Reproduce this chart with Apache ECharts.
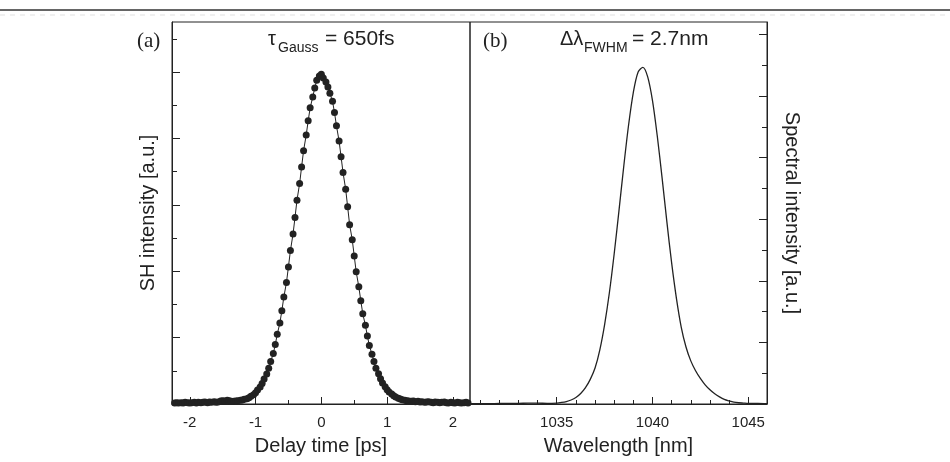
<!DOCTYPE html>
<html>
<head>
<meta charset="utf-8">
<script src="https://cdn.jsdelivr.net/npm/echarts@6/dist/echarts.min.js"></script>
<style>
  html, body { margin: 0; padding: 0; background: #fff; }
  #chart { width: 950px; height: 462px; }
</style>
</head>
<body>
<div id="chart"></div>
<script>
// (a) autocorrelation: delay [ps] and SH signal (normalised)
var delay = [-2.23,-2.20,-2.17,-2.13,-2.10,-2.07,-2.03,-2.00,-1.97,-1.93,-1.90,-1.87,-1.83,-1.80,-1.77,-1.73,-1.70,-1.67,-1.63,-1.60,-1.57,-1.53,-1.50,-1.47,-1.43,-1.40,-1.37,-1.33,-1.30,-1.27,-1.23,-1.20,-1.17,-1.13,-1.10,-1.07,-1.03,-1.00,-0.97,-0.93,-0.90,-0.87,-0.83,-0.80,-0.77,-0.73,-0.70,-0.67,-0.63,-0.60,-0.57,-0.53,-0.50,-0.47,-0.43,-0.40,-0.37,-0.33,-0.30,-0.27,-0.23,-0.20,-0.17,-0.13,-0.10,-0.07,-0.03,
  0,
  0.03,0.07,0.10,0.13,0.17,0.20,0.23,0.27,0.30,0.33,0.37,0.40,0.43,0.47,0.50,0.53,0.57,0.60,0.63,0.67,0.70,0.73,0.77,0.80,0.83,0.87,0.90,0.93,0.97,1.00,1.03,1.07,1.10,1.13,1.17,1.20,1.23,1.27,1.30,1.33,1.37,1.40,1.43,1.47,1.50,1.53,1.57,1.60,1.63,1.67,1.70,1.73,1.77,1.80,1.83,1.87,1.90,1.93,1.97,2.00,2.03,2.07,2.10,2.13,2.17,2.20,2.23];
var shSignal = [0.003,0.004,0.003,0.004,0.003,0.005,0.004,0.003,0.004,0.005,0.003,0.005,0.004,0.005,0.006,0.004,0.006,0.005,0.007,0.005,0.006,0.009,0.010,0.009,0.011,0.010,0.008,
  0.008,0.009,0.010,0.011,0.012,0.014,0.016,0.019,0.023,0.028,0.034,0.042,0.051,0.062,0.075,0.090,0.108,0.128,0.152,0.179,0.210,0.244,0.281,0.322,0.366,0.413,0.462,0.512,0.562,0.614,0.664,0.714,0.763,0.810,0.853,0.892,0.925,0.952,0.975,0.988,
  0.993,
  0.982,0.970,0.955,0.936,0.912,0.878,0.838,0.792,0.745,0.697,0.647,0.594,0.540,0.495,0.446,0.398,0.353,0.311,0.272,0.237,0.205,0.176,0.150,0.128,0.108,0.091,0.076,0.063,0.052,0.043,0.036,0.030,0.025,0.021,0.017,0.015,0.013,0.011,0.010,0.009,
  0.008,0.009,0.007,0.008,0.006,0.007,0.005,0.006,0.007,0.005,0.004,0.006,0.005,0.004,0.005,0.006,0.004,0.003,0.005,0.004,0.003,0.005,0.004,0.003,0.004,0.005,0.003];

// (b) spectrum: wavelength [nm] and spectral intensity
var wavelength = [1030.5,1031,1031.5,1032,1032.5,1033,1033.5,1034,1034.5,
  1035,1035.25,1035.5,1035.75,1036,1036.25,1036.5,1036.75,1037,1037.25,1037.5,1037.75,1038,1038.25,1038.5,1038.75,1039,1039.25,1039.5,1039.75,1040,1040.25,1040.5,1040.75,1041,1041.25,1041.5,1041.75,1042,1042.25,1042.5,1042.75,1043,1043.25,1043.5,1043.75,1044,1044.25,1044.5,1044.75,1045,
  1045.5,1046];
var spectrum = [0.001,0.001,0.001,0.002,0.002,0.002,0.003,0.003,0.002,
  0.003,0.005,0.008,0.013,0.021,0.034,0.053,0.080,0.117,0.176,0.258,0.362,0.488,0.628,0.772,0.905,1.012,1.078,1.093,1.062,0.985,0.870,0.735,0.592,0.458,0.343,0.250,0.185,0.140,0.108,0.083,0.062,0.046,0.033,0.023,0.015,0.010,0.006,0.004,0.003,0.002,
  0.002,0.001];

// tick positions
var delayTicks = [-2, -1, 0, 1, 2];
var delayMinorTicks = [-1.5, -0.5, 0.5, 1.5];
var wavelengthTicks = [1035, 1040, 1045];
var wavelengthMinorTicks = [1031, 1032, 1033, 1034, 1036, 1037, 1038, 1039, 1041, 1042, 1043, 1044];
var shTicks = [0.2, 0.4, 0.6, 0.8, 1.0];
var shMinorTicks = [0.1, 0.3, 0.5, 0.7, 0.9, 1.1];
var specTicks = [0.2, 0.4, 0.6, 0.8, 1.0, 1.2];
var specMinorTicks = [0.1, 0.3, 0.5, 0.7, 0.9, 1.1];

var INK = '#222';
var SANS = '"Liberation Sans", Arial, sans-serif';
var SERIF = '"Liberation Serif", "Times New Roman", serif';

// extra axis that only carries the short (minor) ticks
function tickAxis(grid, pos, min, max, ticks, len) {
  return {
    type: 'value', gridIndex: grid, position: pos, min: min, max: max,
    axisLine: { show: false, onZero: false },
    axisTick: { show: true, inside: true, length: len, customValues: ticks, lineStyle: { color: INK, width: 1 } },
    axisLabel: { show: false },
    splitLine: { show: false }
  };
}

var chart = echarts.init(document.getElementById('chart'), null, { renderer: 'canvas' });

var option = {
  animation: false,
  backgroundColor: '#fff',
  grid: [
    { left: 172, top: 22, width: 298, height: 382, show: true, borderColor: INK, borderWidth: 1, backgroundColor: 'transparent' },
    { left: 470, top: 22, width: 297, height: 382, show: true, borderColor: INK, borderWidth: 1, backgroundColor: 'transparent' }
  ],
  xAxis: [
    {
      type: 'value', gridIndex: 0, position: 'bottom', min: -2.27, max: 2.26,
      axisLine: { show: true, onZero: false, lineStyle: { color: INK, width: 1 } },
      axisTick: { show: true, inside: true, length: 7, customValues: delayTicks, lineStyle: { color: INK } },
      axisLabel: { customValues: delayTicks, color: INK, fontSize: 15, fontFamily: SANS, margin: 11, formatter: function (v) { return String(v); } },
      splitLine: { show: false },
      name: 'Delay time [ps]', nameLocation: 'middle', nameGap: 32,
      nameTextStyle: { color: INK, fontSize: 20, fontFamily: SANS }
    },
    tickAxis(0, 'bottom', -2.27, 2.26, delayMinorTicks, 4),
    {
      type: 'value', gridIndex: 1, position: 'bottom', min: 1030.47, max: 1045.98,
      axisLine: { show: true, onZero: false, lineStyle: { color: INK, width: 1 } },
      axisTick: { show: true, inside: true, length: 7, customValues: wavelengthTicks, lineStyle: { color: INK } },
      axisLabel: { customValues: wavelengthTicks, color: INK, fontSize: 15, fontFamily: SANS, margin: 11, formatter: function (v) { return String(v); } },
      splitLine: { show: false },
      name: 'Wavelength [nm]', nameLocation: 'middle', nameGap: 32,
      nameTextStyle: { color: INK, fontSize: 20, fontFamily: SANS }
    },
    tickAxis(1, 'bottom', 1030.47, 1045.98, wavelengthMinorTicks, 4)
  ],
  yAxis: [
    {
      type: 'value', gridIndex: 0, position: 'left', min: 0, max: 1.1506,
      axisLine: { show: true, onZero: false, lineStyle: { color: INK, width: 1 } },
      axisTick: { show: true, inside: true, length: 8, customValues: shTicks, lineStyle: { color: INK } },
      axisLabel: { show: false },
      splitLine: { show: false },
      name: 'SH intensity [a.u.]', nameLocation: 'middle', nameGap: 14,
      nameTextStyle: { color: INK, fontSize: 20, fontFamily: SANS }
    },
    tickAxis(0, 'left', 0, 1.1506, shMinorTicks, 5),
    {
      type: 'value', gridIndex: 1, position: 'right', min: 0, max: 1.2403,
      axisLine: { show: true, onZero: false, lineStyle: { color: INK, width: 1 } },
      axisTick: { show: true, inside: true, length: 8, customValues: specTicks, lineStyle: { color: INK } },
      axisLabel: { show: false },
      splitLine: { show: false },
      name: 'Spectral intensity [a.u.]', nameLocation: 'middle', nameGap: 15, nameRotate: -90,
      nameTextStyle: { color: INK, fontSize: 20, fontFamily: SANS }
    },
    tickAxis(1, 'right', 0, 1.2403, specMinorTicks, 5)
  ],
  series: [
    {
      name: 'SH signal', type: 'line', xAxisIndex: 0, yAxisIndex: 0,
      data: delay.map(function (t, i) { return [t, shSignal[i]]; }),
      symbol: 'circle', symbolSize: 7, showSymbol: true, showAllSymbol: true,
      clip: false,
      lineStyle: { color: INK, width: 1 },
      itemStyle: { color: INK }
    },
    {
      name: 'Spectrum', type: 'line', xAxisIndex: 2, yAxisIndex: 2,
      data: wavelength.map(function (w, i) { return [w, spectrum[i]]; }),
      showSymbol: false, smooth: 0.3,
      lineStyle: { color: INK, width: 1.3 }
    }
  ],
  graphic: [
    { type: 'line', shape: { x1: 0, y1: 10, x2: 950, y2: 10 }, style: { stroke: '#333', lineWidth: 1.5 } },
    { type: 'line', shape: { x1: 0, y1: 15, x2: 950, y2: 15 }, style: { stroke: '#e2e2e2', lineWidth: 1, lineDash: [5, 5] } },
    { type: 'text', x: 137, y: 41, style: { text: '(a)', font: '21px ' + SERIF, fill: INK, verticalAlign: 'middle' } },
    { type: 'text', x: 268, y: 39, style: { text: 'τ', font: '20px ' + SANS, fill: INK, verticalAlign: 'middle' } },
    { type: 'text', x: 278, y: 48.5, style: { text: 'Gauss', font: '14px ' + SANS, fill: INK, verticalAlign: 'middle' } },
    { type: 'text', x: 325, y: 39, style: { text: '= 650fs', font: '21px ' + SANS, fill: INK, verticalAlign: 'middle' } },
    { type: 'text', x: 483, y: 41, style: { text: '(b)', font: '21px ' + SERIF, fill: INK, verticalAlign: 'middle' } },
    { type: 'text', x: 560, y: 39, style: { text: 'Δλ', font: '20px ' + SANS, fill: INK, verticalAlign: 'middle' } },
    { type: 'text', x: 584, y: 48.5, style: { text: 'FWHM', font: '14px ' + SANS, fill: INK, verticalAlign: 'middle' } },
    { type: 'text', x: 632, y: 39, style: { text: '= 2.7nm', font: '21px ' + SANS, fill: INK, verticalAlign: 'middle' } }
  ]
};

chart.setOption(option);
</script>
</body>
</html>
